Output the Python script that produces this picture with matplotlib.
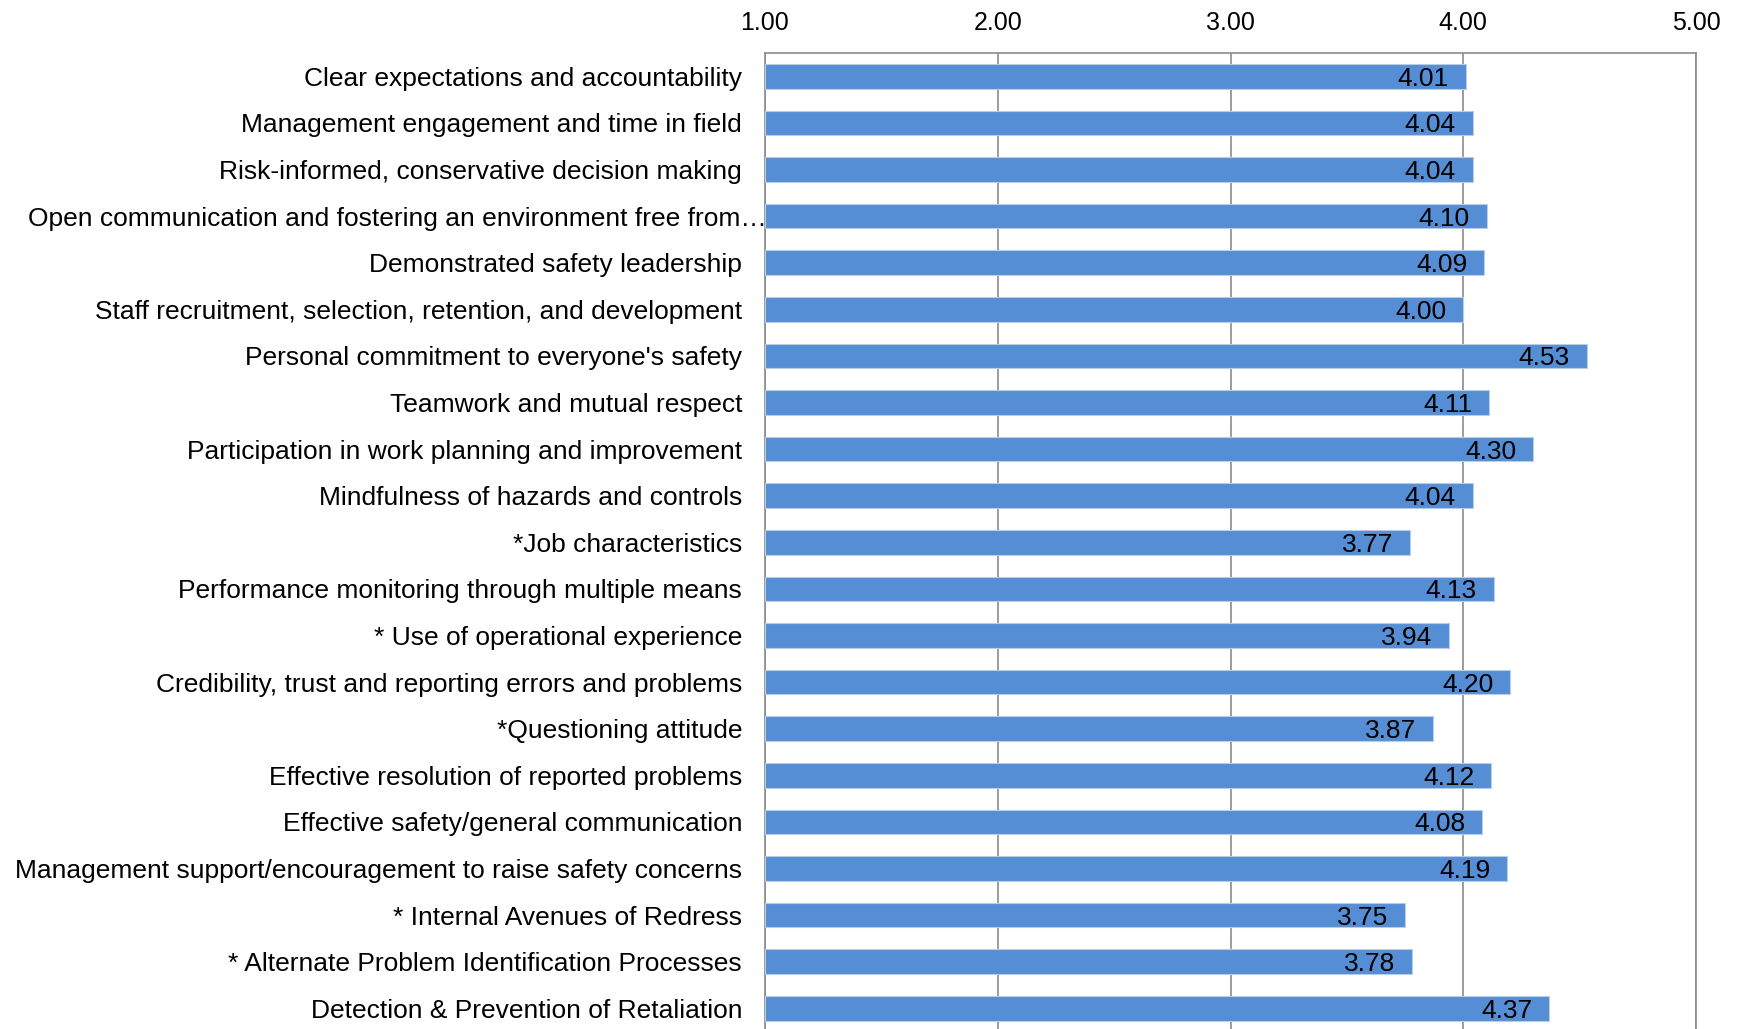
import matplotlib
matplotlib.use("Agg")
import matplotlib.pyplot as plt
import matplotlib.transforms as mtransforms
import numpy as np

plt.rcParams['font.family'] = ['Liberation Sans', 'DejaVu Sans']

categories = [
    "Clear expectations and accountability",
    "Management engagement and time in field",
    "Risk-informed, conservative decision making",
    "Open communication and fostering an environment free from\u2026",
    "Demonstrated safety leadership",
    "Staff recruitment, selection, retention, and development",
    "Personal commitment to everyone's safety",
    "Teamwork and mutual respect",
    "Participation in work planning and improvement",
    "Mindfulness of hazards and controls",
    "*Job characteristics",
    "Performance monitoring through multiple means",
    "* Use of operational experience",
    "Credibility, trust and reporting errors and problems",
    "*Questioning attitude",
    "Effective resolution of reported problems",
    "Effective safety/general communication",
    "Management support/encouragement to raise safety concerns",
    "* Internal Avenues of Redress",
    "* Alternate Problem Identification Processes",
    "Detection & Prevention of Retaliation",
]
values = [4.01, 4.04, 4.04, 4.10, 4.09, 4.00, 4.53, 4.11, 4.30, 4.04, 3.77,
          4.13, 3.94, 4.20, 3.87, 4.12, 4.08, 4.19, 3.75, 3.78, 4.37]
x_ticks = [1.0, 2.0, 3.0, 4.0, 5.0]
base = 1.0

W, H = 1739, 1029
fig = plt.figure(figsize=(W / 100, H / 100), dpi=100)
left_px, right_px, top_px = 765, 1696, 53
n = len(categories)
spacing = (1010 - 78) / (n - 1)
bottom_px = top_px + spacing * n
ax = fig.add_axes([left_px / W, 1 - bottom_px / H, (right_px - left_px) / W, (bottom_px - top_px) / H])

y = np.arange(n)
vals = np.array(values)
ax.barh(y, vals - base, left=base, height=0.53, color='#558ED5',
        edgecolor='#B9CDE5', linewidth=0.8, zorder=3)

ax.set_xlim(x_ticks[0], x_ticks[-1])
ax.set_ylim(n - 0.5, -0.5)
ax.set_xticks(x_ticks)
ax.set_xticklabels([f"{t:.2f}" for t in x_ticks], fontsize=18)
ax.xaxis.tick_top()
ax.tick_params(axis='x', length=0, pad=13)
ax.set_yticks(y)
ax.set_yticklabels(categories, fontsize=19)
ax.tick_params(axis='y', length=0, pad=16.5)

ax.grid(axis='x', color='#8C8C8C', linewidth=1.2, zorder=0)
for s in ['left', 'right', 'top']:
    ax.spines[s].set_color('#8C8C8C')
    ax.spines[s].set_linewidth(1.2)
ax.spines['bottom'].set_visible(False)

# long label overlaps the axis slightly
lbl = ax.get_yticklabels()[3]
lbl.set_transform(lbl.get_transform() + mtransforms.ScaledTranslation(0.25, 0, fig.dpi_scale_trans))

for yi, v in zip(y, vals):
    ax.annotate(f"{v:.2f}", xy=(v, yi), xytext=(-12, 0), textcoords='offset points',
                ha='right', va='center_baseline', fontsize=19, color='black', zorder=4)

fig.savefig("out.png", dpi=100)
